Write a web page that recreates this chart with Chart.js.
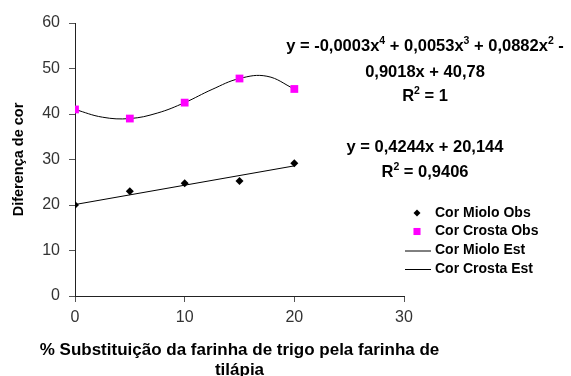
<!DOCTYPE html>
<html>
<head>
<meta charset="utf-8">
<script src="https://cdn.jsdelivr.net/npm/chart.js@4.4.0/dist/chart.umd.min.js"></script>
<style>
  html, body { margin: 0; padding: 0; background: #fff; }
  #wrap { width: 571px; height: 376px; }
</style>
</head>
<body>
<div id="wrap"><canvas id="corChart"></canvas></div>
<script>
// Data
const substX = [0, 5, 10, 15, 20];
const mioloObs = [20.0, 23.0, 24.8, 25.3, 29.2];
const crostaObs = [41.0, 39.0, 42.5, 47.8, 45.5];

// fitted lines, read along the drawn trendlines
const mioloEstX = [0, 20];
const mioloEst = [20.1, 28.6];
const crostaEstX = [0, 2.5, 5, 7.5, 10, 12.5, 15, 17.5, 20];
const crostaEst = [41.0, 39.3, 39.0, 40.2, 42.5, 45.4, 47.8, 48.3, 45.5];

const xTicks = [0, 10, 20, 30];
const yTicks = [0, 10, 20, 30, 40, 50, 60];

const xTitle = ['% Substituição da farinha de trigo pela farinha de', 'tilápia'];

// '^' marks the next character as a superscript
const crostaEq = ['y = -0,0003x^4 + 0,0053x^3 + 0,0882x^2 -', '0,9018x + 40,78', 'R^2 = 1'];
const mioloEq = ['y = 0,4244x + 20,144', 'R^2 = 0,9406'];

const FONT = '"Liberation Sans", Arial, sans-serif';

function pts(xs, ys) {
    return xs.map(function (x, i) { return { x: x, y: ys[i] }; });
}

function splitSup(str) {
    const parts = [];
    let buf = '';
    for (let i = 0; i < str.length; i++) {
        if (str[i] === '^') {
            if (buf) parts.push({ t: buf, sup: false });
            buf = '';
            parts.push({ t: str[i + 1], sup: true });
            i++;
        } else {
            buf += str[i];
        }
    }
    if (buf) parts.push({ t: buf, sup: false });
    return parts;
}

function drawEq(ctx, str, cx, cy) {
    const normal = 'bold 16.5px ' + FONT;
    const small = 'bold 10.5px ' + FONT;
    const parts = splitSup(str);
    let w = 0;
    parts.forEach(function (p) {
        ctx.font = p.sup ? small : normal;
        p.w = ctx.measureText(p.t).width;
        w += p.w;
    });
    let x = cx - w / 2;
    parts.forEach(function (p) {
        ctx.font = p.sup ? small : normal;
        ctx.fillText(p.t, x, p.sup ? cy - 5 : cy);
        x += p.w;
    });
}

// x title, legend and equations (they run past the plot width)
const sidePlugin = {
    id: 'side',
    afterDraw: function (chart) {
        const ctx = chart.ctx;
        const area = chart.chartArea;
        ctx.save();
        ctx.fillStyle = '#000';
        ctx.textBaseline = 'middle';

        ctx.textAlign = 'center';
        ctx.font = 'bold 17px ' + FONT;
        const midX = (area.left + area.right) / 2;
        ctx.fillText(xTitle[0], midX, 350);
        ctx.fillText(xTitle[1], midX, 370);

        ctx.textAlign = 'left';
        const eqX = 425;
        drawEq(ctx, crostaEq[0], eqX, 46);
        drawEq(ctx, crostaEq[1], eqX, 72);
        drawEq(ctx, crostaEq[2], eqX, 96);
        drawEq(ctx, mioloEq[0], eqX, 147);
        drawEq(ctx, mioloEq[1], eqX, 172);

        // legend
        ctx.font = 'bold 14px ' + FONT;
        const ys = [213, 231.5, 250.5, 269];
        chart.data.datasets.forEach(function (ds, i) {
            const y = ys[i];
            if (ds.showLine) {
                ctx.strokeStyle = ds.borderColor;
                ctx.lineWidth = 1;
                ctx.beginPath();
                ctx.moveTo(405, y + 0.5);
                ctx.lineTo(431, y + 0.5);
                ctx.stroke();
            } else {
                ctx.fillStyle = ds.pointBackgroundColor;
                Chart.helpers.drawPoint(ctx, {
                    pointStyle: ds.pointStyle,
                    borderWidth: 0,
                    rotation: 0,
                    radius: ds.legendRadius
                }, 417, y);
            }
            ctx.fillStyle = '#000';
            ctx.fillText(ds.label, 435, y);
        });
        ctx.restore();
    }
};

document.addEventListener('DOMContentLoaded', function () {
    const ctx = document.getElementById('corChart');
    new Chart(ctx, {
        type: 'scatter',
        data: {
            datasets: [{
                label: 'Cor Miolo Obs',
                data: pts(substX, mioloObs),
                pointStyle: 'rectRot',
                pointRadius: 4,
                legendRadius: 3.5,
                pointBackgroundColor: '#000',
                pointBorderColor: '#000',
                pointBorderWidth: 0,
                showLine: false
            }, {
                label: 'Cor Crosta Obs',
                data: pts(substX, crostaObs),
                pointStyle: 'rect',
                pointRadius: 5.5,
                legendRadius: 5,
                pointBackgroundColor: '#FF00FF',
                pointBorderColor: '#FF00FF',
                pointBorderWidth: 0,
                showLine: false
            }, {
                label: 'Cor Miolo Est',
                data: pts(mioloEstX, mioloEst),
                showLine: true,
                borderColor: '#000',
                borderWidth: 1,
                pointRadius: 0
            }, {
                label: 'Cor Crosta Est',
                data: pts(crostaEstX, crostaEst),
                showLine: true,
                borderColor: '#000',
                borderWidth: 1,
                pointRadius: 0,
                tension: 0.4
            }]
        },
        options: {
            responsive: true,
            maintainAspectRatio: false,
            animation: false,
            layout: { padding: { top: 23, right: 167, left: 0, bottom: 0 } },
            plugins: {
                legend: { display: false },
                tooltip: { enabled: false }
            },
            scales: {
                x: {
                    type: 'linear',
                    min: 0,
                    max: 30,
                    afterFit: function (s) { s.height = 80; },
                    afterBuildTicks: function (s) { s.ticks = xTicks.map(function (v) { return { value: v }; }); },
                    border: { display: true, color: '#222', width: 1 },
                    grid: { display: true, drawOnChartArea: false, drawTicks: true, tickLength: 6, color: '#555' },
                    ticks: { color: '#333', padding: 6, maxRotation: 0, font: { size: 16, family: FONT } },
                    title: { display: false }
                },
                y: {
                    type: 'linear',
                    min: 0,
                    max: 60,
                    afterFit: function (s) { s.width = 75; },
                    afterBuildTicks: function (s) { s.ticks = yTicks.map(function (v) { return { value: v }; }); },
                    border: { display: true, color: '#222', width: 1 },
                    grid: { display: true, drawOnChartArea: false, drawTicks: true, tickLength: 6, color: '#555' },
                    ticks: { color: '#333', padding: 9, font: { size: 16, family: FONT } },
                    title: {
                        display: true,
                        text: 'Diferença de cor',
                        color: '#000',
                        padding: { top: 10, bottom: 0 },
                        font: { size: 14.5, weight: 'bold', family: FONT }
                    }
                }
            }
        },
        plugins: [sidePlugin]
    });
});
</script>
</body>
</html>
